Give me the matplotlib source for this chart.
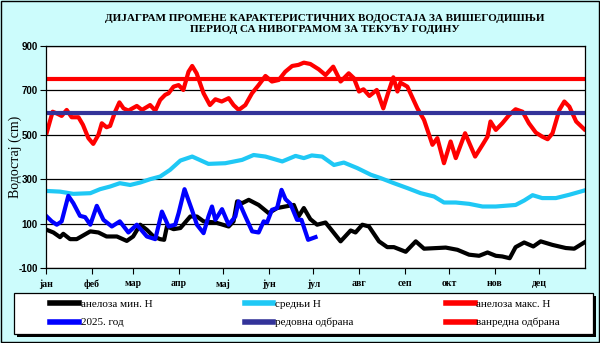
import matplotlib
matplotlib.use("Agg")
import matplotlib.pyplot as plt
from matplotlib.patches import Rectangle

# Days of year (x) and water levels in cm
max_days = [0.5, 4.5, 7, 10.6, 14, 17.4, 22, 25, 28.7, 32, 35.5, 37.8, 41, 43.4, 46.8, 49.7,
            52.5, 55.8, 61.5, 65, 70.5, 74, 77.3, 80.7, 83, 86.4, 89.8, 93, 96.5, 99, 102,
            106.7, 111, 114.7, 119, 123.7, 127, 130.5, 135, 139.5, 144, 148.6, 153, 157.6,
            162, 166.7, 171, 174.6, 179, 184.7, 189.3, 194.5, 199.5, 205, 208.5, 212, 215,
            219, 224, 228.4, 231.6, 235.2, 238, 240, 244.7, 251.5, 256, 261.7, 265, 269.5,
            274, 277.5, 283.8, 290.6, 295.6, 299, 301, 304.6, 309, 313.6, 318, 322.7, 327,
            331.7, 336, 339.7, 343, 347.6, 351, 354.4, 359, 364.5]
max_vals = [510, 604, 597, 585, 612, 579, 579, 545, 485, 459, 500, 552, 534, 540, 604, 646,
            619, 609, 630, 612, 634, 609, 657, 680, 687, 717, 724, 702, 784, 810, 777,
            687, 634, 660, 650, 665, 634, 612, 634, 687, 724, 765, 740, 747,
            784, 810, 815, 825, 819, 795, 769, 807, 740, 777, 755, 695, 705,
            675, 702, 619, 687, 759, 695, 735, 717, 619, 567, 455, 485, 372,
            470, 395, 507, 402, 455, 492, 560, 522, 552, 589, 615, 604, 552,
            510, 492, 480, 507, 612, 650, 627, 560, 525]

mean_days = [0.5, 9.5, 18.5, 30, 36.6, 43.4, 50, 57, 63.8, 70.5, 77.3, 84, 91, 99, 110,
             121.4, 132.8, 140.6, 148.6, 160, 169, 174.6, 180, 187, 195, 201.7, 210.8, 220,
             226.6, 235.6, 244.7, 253.7, 262.8, 269.5, 277.5, 286.5, 295.6, 304.6, 318,
             323.8, 329.5, 336, 345.3, 354.4, 364.5]
mean_vals = [247, 244, 234, 237, 255, 267, 282, 274, 285, 300, 312, 342, 384, 402, 369,
             372, 387, 409, 402, 380, 405, 395, 407, 402, 364, 375, 350, 320,
             305, 282, 260, 237, 222, 195, 195, 189, 177, 177, 184,
             204, 228, 215, 215, 230, 249]

min_days = [0.5, 5, 9.5, 11.7, 16.3, 20.8, 30, 35.5, 41, 48, 54.7, 59, 63.8, 68.3, 72.8,
            77.3, 80, 81.9, 86.4, 91, 97.7, 102.2, 106.7, 114.7, 123.7, 127, 129.4, 132.8,
            137.3, 144, 150.8, 156.5, 162, 167.8, 171, 174.6, 179, 183.6, 189.3, 199.5,
            206.3, 209.6, 214.2, 218.7, 225.5, 231.1, 235.6, 243.6, 250.4, 256, 265, 270.7,
            278.6, 286.5, 293.3, 299, 304.6, 309, 314, 318, 323.8, 330, 335, 343, 352,
            357.7, 364.5]
min_vals = [72, 60, 39, 54, 30, 30, 65, 60, 42, 42, 22, 42, 95, 72, 42,
            30, 27, 87, 75, 80, 132, 132, 110, 105, 87, 110, 200, 192,
            207, 184, 147, 170, 177, 184, 132, 170, 120, 95, 105, 20,
            69, 60, 95, 87, 20, -6, -6, -27, 20, -13, -10, -8,
            -18, -40, -45, -30, -45, -48, -56, -6, 15, -3, 20, 4, -10,
            -13, 15]

cur_days = [0.5, 3.9, 7.3, 10.6, 15.1, 18.5, 23, 26.5, 30, 34.4, 38.9, 44.6, 50, 55.8,
            61.5, 68.3, 74, 78.5, 83, 87.5, 89.8, 93.8, 98.8, 102.2, 106.7, 110, 112.4,
            114.7, 119.2, 123.7, 128.2, 130.5, 135, 139.6, 144, 147.4, 149.7, 153, 156.5,
            159.5, 162.2, 165.5, 170, 173, 177.5, 182.5]
cur_vals = [132, 110, 95, 110, 225, 192, 135, 129, 95, 180, 117, 87, 110, 60,
            95, 42, 30, 154, 87, 95, 147, 255, 162, 95, 57, 132, 177,
            117, 165, 95, 132, 200, 132, 65, 60, 110, 105, 162, 170,
            252, 210, 189, 117, 117, 27, 39]

regular_defense = 600
emergency_defense = 750

month_starts = [0, 31, 59, 90, 120, 151, 181, 212, 243, 273, 304, 334]
month_labels = ["јан", "феб", "мар", "апр", "мај", "јун", "јул", "авг", "сеп", "окт", "нов", "дец"]
y_ticks = [-100, 100, 300, 500, 700, 900]

title = ("ДИЈАГРАМ ПРОМЕНЕ КАРАКТЕРИСТИЧНИХ ВОДОСТАЈА ЗА ВИШЕГОДИШЊИ\n"
         "ПЕРИОД СА НИВОГРАМОМ ЗА ТЕКУЋУ ГОДИНУ")

bg = "#ccfcfc"
serif = "Liberation Serif"
sans = "Liberation Sans"
W, H = 600, 343

fig = plt.figure(figsize=(6, 3.43), dpi=100, facecolor=bg)
ax = fig.add_axes([46 / W, 75 / H, 539 / W, 222 / H])
ax.set_facecolor("white")

lw = 3
l_min, = ax.plot(min_days, min_vals, color="black", lw=lw, label="анелоза мин. Н")
l_mean, = ax.plot(mean_days, mean_vals, color="#1fc8f5", lw=lw, label="средњи Н")
l_max, = ax.plot(max_days, max_vals, color="#ff0000", lw=lw, label="анелоза макс. Н")
l_cur, = ax.plot(cur_days, cur_vals, color="#0000ff", lw=lw, label="2025. год")
l_reg = ax.axhline(regular_defense, color="#333399", lw=lw, label="редовна одбрана")
l_emg = ax.axhline(emergency_defense, color="#ff0000", lw=lw, label="ванредна одбрана")

ax.set_xlim(0, 365)
ax.set_ylim(-100, 900)
ax.set_yticks(y_ticks)
ax.set_yticklabels([str(v) for v in y_ticks], fontfamily=sans, fontweight="bold", fontsize=7)
ax.yaxis.grid(True, color="black", lw=0.9)
ax.set_axisbelow(True)
ax.set_xticks(month_starts)
ax.set_xticklabels(month_labels, fontfamily=serif, fontweight="bold", fontsize=7)
ax.tick_params(axis="both", direction="out", length=4, width=0.8, pad=2)
ax.tick_params(axis="x", pad=4)
for s in ax.spines.values():
    s.set_linewidth(0.9)

ax.set_ylabel("Водостај (cm)", fontfamily=serif, fontsize=10)
ax.yaxis.set_label_coords(-0.044, 0.5)

fig.text(325 / W, 1 - 24 / H, title, ha="center", va="center",
         fontfamily=serif, fontweight="bold", fontsize=8, linespacing=1.3)

# legend box with a hard black shadow, drawn by hand
bx0, by0, bx1, by1 = 14, 293, 593, 334
fig.patches.append(Rectangle(((bx0 + 3) / W, 1 - (by1 + 3) / H), (bx1 - bx0) / W, (by1 - by0) / H,
                             transform=fig.transFigure, facecolor="black", edgecolor="none", zorder=1))
fig.patches.append(Rectangle((bx0 / W, 1 - by1 / H), (bx1 - bx0) / W, (by1 - by0) / H,
                             transform=fig.transFigure, facecolor="white", edgecolor="black",
                             lw=0.9, zorder=1.5))
leg = fig.legend(handles=[l_min, l_cur, l_mean, l_reg, l_max, l_emg], ncol=3, mode="expand",
                 loc="center", bbox_to_anchor=(50 / W, 1 - by1 / H, 510 / W, (by1 - by0) / H),
                 frameon=False, borderaxespad=0, borderpad=0, handlelength=2.6,
                 handletextpad=0.15, labelspacing=0.75, columnspacing=1.0,
                 prop={"family": serif, "size": 8})
leg.set_zorder(2)
for h in leg.legend_handles:
    h.set_linewidth(4)

# outer border of the chart area
fig.patches.append(Rectangle((0.002, 0.003), 0.996, 0.994, transform=fig.transFigure,
                             facecolor="none", edgecolor="black", lw=1, zorder=0))

fig.savefig("out.png", dpi=100, facecolor=bg)
